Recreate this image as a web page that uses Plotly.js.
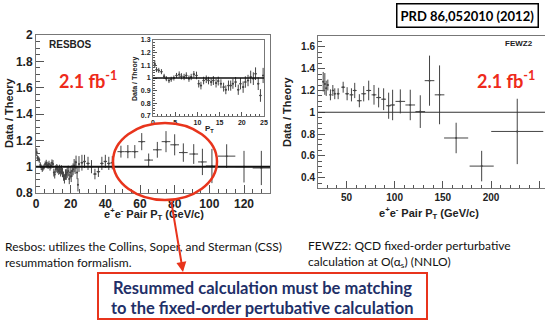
<!DOCTYPE html>
<html>
<head>
<meta charset="utf-8">
<script src="https://cdn.plot.ly/plotly-3.0.1.min.js"></script>
<style>
  html, body { margin: 0; padding: 0; background: #fff; }
  #chart { width: 545px; height: 321px; }
</style>
</head>
<body>
<div id="chart"></div>
<script>
// RESBOS inset (and low-pT part of the main RESBOS panel)
var insetX = [0.4,0.8,1.3,1.9,2.5,3.0,3.6,4.1,4.7,5.3,5.9,6.4,7.0,7.5,8.1,8.6,9.2,9.8,10.3,10.8,11.4,12.0,12.5,13.1,13.6,14.2,14.7,15.3,15.9,16.4,17.0,17.5,18.0,18.6,19.2,19.7,20.3,20.8,21.4,22.0,22.6,23.1,23.7,24.2,24.8];
var insetY = [1.11,1.066,1.06,1.05,1.013,0.995,0.98,0.99,1.0,1.02,1.027,1.013,1.008,1.02,0.995,1.008,1.03,1.02,0.955,0.94,0.98,0.99,0.98,0.968,0.98,0.96,0.976,0.955,0.928,0.907,0.94,0.94,0.955,0.968,0.907,0.955,0.928,0.968,0.98,1.008,0.995,1.034,0.955,0.862,1.02];
var insetErr = [0.03,0.02,0.02,0.02,0.02,0.02,0.02,0.02,0.02,0.02,0.025,0.025,0.025,0.025,0.025,0.025,0.025,0.03,0.03,0.03,0.03,0.03,0.03,0.03,0.035,0.035,0.035,0.035,0.035,0.035,0.04,0.04,0.04,0.04,0.04,0.045,0.045,0.045,0.045,0.05,0.05,0.05,0.05,0.05,0.06];

// RESBOS main panel, 25-45 GeV
var midX = [26.5,28,30,32,34,36,38,40,42,44];
var midY = [1.03,1.04,1.025,1.0,0.944,0.962,1.025,1.04,1.025,1.03];
var midErr = [0.06,0.05,0.05,0.05,0.04,0.04,0.05,0.05,0.05,0.05];
var midXErr = [0.8,0.8,1,1,1,1,1,1,1,1];

// RESBOS main panel, high pT bins
var hiX = [49,53,57,61,65,70,75,80,85,91,96,101.5,110,120,130];
var hiY = [1.114,1.114,1.114,1.19,1.05,1.128,1.19,1.166,1.107,1.096,1.036,1.005,1.08,1.0,0.99];
var hiErr = [0.045,0.05,0.05,0.065,0.05,0.06,0.08,0.08,0.07,0.075,0.1,0.13,0.09,0.12,0.13];
var hiXErr = [2,2,2,2,2.5,2.5,2.5,2.5,2.5,2.5,2.5,3.5,5,5,5];

// FEWZ2 panel
var fewzX = [25.9,27.6,29,30.7,33.4,35.9,37.9,41.4,46.6,50.7,55.2,58.6,63.4,67.9,73.1,78.6,83.4,88.6,93.8,97.9,105.9,116.2,126.6,136.2,146.6,163.8,190.3,227.2];
var fewzY = [1.28,1.26,1.22,1.25,1.16,1.20,1.17,1.17,1.23,1.17,1.16,1.20,1.106,1.17,1.20,1.16,1.135,1.12,1.06,1.067,1.10,1.067,1.006,1.29,1.16,0.764,0.506,0.824];
var fewzErr = [0.09,0.1,0.07,0.05,0.05,0.05,0.05,0.05,0.05,0.06,0.06,0.07,0.06,0.07,0.09,0.09,0.09,0.1,0.12,0.14,0.11,0.14,0.15,0.23,0.27,0.14,0.14,0.3];
var fewzXErr = [0.8,0.8,0.8,1,1,1,1,1.5,2,2,2,2,2.5,2.5,2.5,2.5,2.5,2.5,2.5,2.5,5,5,5,5,5,12.5,12.5,27];

var W = 545, H = 321;
function px(x) { return x / W; }
function py(y) { return 1 - y / H; }

var ink = '#444';
var rootFont = 'Liberation Sans, Arial, sans-serif';
var slideFont = 'Lato, Carlito, sans-serif';

function crosses(x, y, ey, ex, xa, ya) {
  return {
    x: x, y: y, xaxis: xa, yaxis: ya,
    type: 'scatter', mode: 'markers',
    marker: {size: 2, color: ink},
    error_y: {type: 'data', array: ey, visible: true, color: ink, thickness: 1, width: 0},
    error_x: {type: 'data', array: ex, visible: true, color: ink, thickness: 1, width: 0},
    hoverinfo: 'skip', showlegend: false
  };
}

var insetXErr = insetX.map(function() { return 0.25; });

var mainX = insetX.concat(midX, hiX);
var mainY = insetY.concat(midY, hiY);
var mainErr = insetErr.concat(midErr, hiErr);
var mainXErr = insetXErr.concat(midXErr, hiXErr);

var traces = [
  crosses(mainX, mainY, mainErr, mainXErr, 'x', 'y'),
  crosses(insetX, insetY, insetErr, insetXErr, 'x2', 'y2'),
  crosses(fewzX, fewzY, fewzErr, fewzXErr, 'x3', 'y3')
];

function ax(domain, range, dtick, minor, size, len) {
  return {
    domain: domain, range: range, dtick: dtick, tick0: 0,
    ticks: 'inside', ticklen: len, tickcolor: '#555', tickwidth: 1,
    minor: {ticks: 'inside', dtick: minor, ticklen: len / 2, tickcolor: '#555'},
    showline: true, linecolor: '#777', linewidth: 1, mirror: true,
    showgrid: false, zeroline: false, fixedrange: true,
    tickfont: {family: rootFont, size: size, color: '#222', weight: 'bold'}
  };
}

// text placed by its centre, in pixels of the slide
function label(text, x, y, size, opts) {
  return Object.assign({
    text: text, xref: 'paper', yref: 'paper', x: px(x), y: py(y),
    xanchor: 'center', yanchor: 'middle', showarrow: false,
    font: {family: rootFont, size: size, color: '#222', weight: 'bold'}
  }, opts || {});
}

var layout = {
  width: W, height: H,
  margin: {l: 0, r: 0, t: 0, b: 0},
  paper_bgcolor: '#fff', plot_bgcolor: 'rgba(0,0,0,0)',
  showlegend: false,
  xaxis: Object.assign(ax([px(36), px(270)], [0, 135], 20, 5, 12, 8), {anchor: 'y'}),
  yaxis: Object.assign(ax([py(193), py(35)], [0.8, 2.0], 0.2, 0.05, 12, 8), {anchor: 'x'}),
  xaxis2: Object.assign(ax([px(153), px(264)], [0, 25], 5, 1, 7, 4), {anchor: 'y2'}),
  yaxis2: Object.assign(ax([py(116), py(40)], [0.7, 1.3], 0.1, 0.02, 7, 4), {anchor: 'x2'}),
  xaxis3: Object.assign(ax([px(318), 1], [20.5, 256], 50, 10, 10, 7), {anchor: 'y3'}),
  yaxis3: Object.assign(ax([py(188), py(36)], [0.305, 1.70], 0.2, 0.05, 10, 7), {anchor: 'x3'}),
  shapes: [
    {type: 'line', xref: 'x domain', yref: 'y', x0: 0, x1: 1, y0: 1, y1: 1, line: {color: '#111', width: 2}},
    {type: 'line', xref: 'x2 domain', yref: 'y2', x0: 0, x1: 1, y0: 1, y1: 1, line: {color: '#111', width: 1.5}},
    {type: 'line', xref: 'x3 domain', yref: 'y3', x0: 0, x1: 1, y0: 1, y1: 1, line: {color: '#333', width: 1.2}},
    // red ellipse
    {type: 'circle', xref: 'paper', yref: 'paper', x0: px(113), x1: px(217), y0: py(200), y1: py(123),
     line: {color: '#e8341c', width: 2.5}},
    // message box
    {type: 'rect', xref: 'paper', yref: 'paper', x0: px(98), x1: px(427), y0: py(319), y1: py(273),
     line: {color: '#e8341c', width: 2}, fillcolor: '#fff'}
  ],
  annotations: [
    label('PRD 86,052010 (2012)', 467, 15, 13, {
      font: {family: slideFont, size: 13, color: '#000', weight: 'bold'},
      bordercolor: '#000', borderwidth: 1.5, borderpad: 3, bgcolor: '#fff'}),
    label('RESBOS', 47, 44, 10, {xanchor: 'left'}),
    label('FEWZ2', 503, 43, 8, {xanchor: 'left'}),
    label('2.1 fb<sup>-1</sup>', 57, 80, 18, {xanchor: 'left',
      font: {family: slideFont, size: 18, color: '#ee2a1b', weight: 'bold'}}),
    label('2.1 fb<sup>-1</sup>', 475, 80, 18, {xanchor: 'left',
      font: {family: slideFont, size: 18, color: '#ee2a1b', weight: 'bold'}}),
    // axis titles
    label('Data / Theory', 9, 113, 11, {textangle: -90}),
    label('e<sup>+</sup>e<sup>-</sup> Pair P<sub>T</sub> (GeV/c)', 154, 214, 11),
    label('Data / Theory', 287, 112, 11, {textangle: -90}),
    label('e<sup>+</sup>e<sup>-</sup> Pair P<sub>T</sub> (GeV/c)', 429, 213, 11),
    label('Data / Theory', 135, 79, 7, {textangle: -90}),
    label('P<sub>T</sub>', 209, 129, 8),
    // slide text
    label('Resbos: utilizes the Collins, Soper, and Sterman (CSS)<br>resummation formalism.', 3, 254, 12, {
      xanchor: 'left', align: 'left', font: {family: slideFont, size: 12, color: '#111'}}),
    label('FEWZ2: QCD fixed-order perturbative<br>calculation at O(α<sub>s</sub>) (NNLO)', 306, 254, 12, {
      xanchor: 'left', align: 'left', font: {family: slideFont, size: 12, color: '#111'}}),
    label('Resummed calculation must be matching', 262, 288, 16.5, {
      font: {family: slideFont, size: 16.5, color: '#1f3068', weight: 'bold'}}),
    label('to the fixed-order pertubative calculation', 262, 308, 16.5, {
      font: {family: slideFont, size: 16.5, color: '#1f3068', weight: 'bold'}}),
    // arrow from ellipse to message box
    {text: '', xref: 'paper', yref: 'paper', x: px(183), y: py(272), ax: -12, ay: -72, showarrow: true,
     arrowhead: 2, arrowsize: 1, arrowwidth: 2, arrowcolor: '#e8341c'}
  ]
};

Plotly.newPlot('chart', traces, layout, {displayModeBar: false, staticPlot: true});
</script>
</body>
</html>
